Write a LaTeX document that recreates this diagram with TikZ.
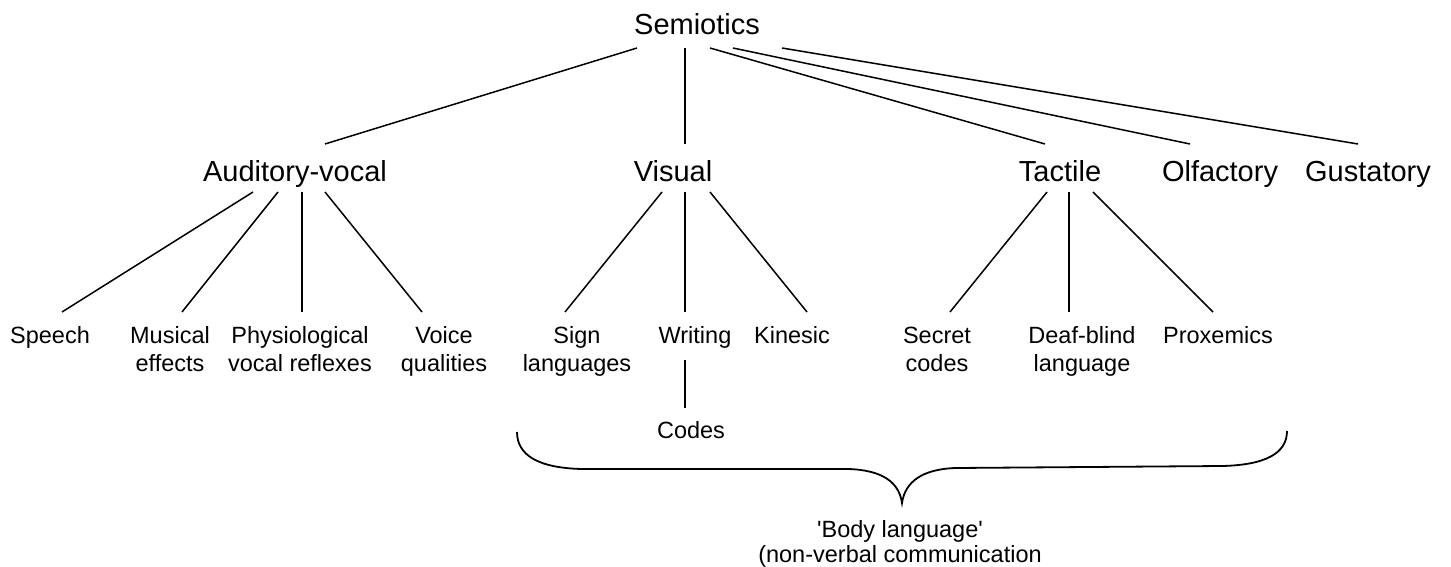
\documentclass[tikz,border=0pt]{standalone}
\usepackage{fontspec}
\setmainfont{Liberation Sans}[Ligatures=TeXOff]
\usetikzlibrary{calc}
\begin{document}
\begin{tikzpicture}[x=1pt,y=-1pt,
  big/.style={inner sep=0pt,anchor=base,font=\fontsize{29}{34}\selectfont},
  small/.style={inner sep=0pt,anchor=base,align=center,font=\fontsize{23.5}{28}\selectfont},
  link/.style={line width=1.5pt},
  bracepath/.style={line width=1.8pt}]
\useasboundingbox (0,0) rectangle (1451,567);
% level 0
\node[big] (sem) at (697,35) {Semiotics};
% level 1
\node[big] (aud) at (295,181) {Auditory-vocal};
\node[big] (vis) at (673,181) {Visual};
\node[big] (tac) at (1060,181) {Tactile};
\node[big] (olf) at (1220,181) {Olfactory};
\node[big] (gus) at (1368,181) {Gustatory};
% level 2 (two-line nodes: base = last line)
\node[small] (spe) at (50,343) {Speech};
\node[small] (mus) at (170,371) {Musical\\effects};
\node[small] (phy) at (300,371) {Physiological\\vocal reflexes};
\node[small] (voi) at (444,371) {Voice\\qualities};
\node[small] (sig) at (577,371) {Sign\\languages};
\node[small] (wri) at (695,343) {Writing};
\node[small] (kin) at (792,343) {Kinesic};
\node[small] (sec) at (937,371) {Secret\\codes};
\node[small] (dea) at (1082,371) {Deaf-blind\\language};
\node[small] (pro) at (1218,343) {Proxemics};
\node[small] (cod) at (691,438) {Codes};
\node[small,font=\fontsize{23.5}{25}\selectfont] (body) at (900,562) {'Body language'\\(non-verbal communication};
% connectors level 0 -> 1
\draw[link] ($(sem.base)+(-60,13)$) -- ($(aud.base)+(30,-37)$);
\draw[link] ($(sem.base)+(-12,13)$) -- ($(vis.base)+(12,-37)$);
\draw[link] ($(sem.base)+(13,13)$) -- ($(tac.base)+(-15,-37)$);
\draw[link] ($(sem.base)+(36,13)$) -- ($(olf.base)+(-30,-37)$);
\draw[link] ($(sem.base)+(85,13)$) -- ($(gus.base)+(-10,-37)$);
% auditory-vocal
\draw[link] ($(aud.base)+(-42,11)$) -- ($(spe.base)+(12,-31)$);
\draw[link] ($(aud.base)+(-17,11)$) -- ($(mus.base)+(12,-59)$);
\draw[link] ($(aud.base)+(7,11)$) -- ($(phy.base)+(2,-59)$);
\draw[link] ($(aud.base)+(30,11)$) -- ($(voi.base)+(-22,-59)$);
% visual
\draw[link] ($(vis.base)+(-11,11)$) -- ($(sig.base)+(-12,-59)$);
\draw[link] ($(vis.base)+(12,11)$) -- ($(wri.base)+(-10,-31)$);
\draw[link] ($(vis.base)+(37,11)$) -- ($(kin.base)+(15,-31)$);
\draw[link] ($(wri.base)+(-10,17)$) -- ($(cod.base)+(-6,-30)$);
% tactile
\draw[link] ($(tac.base)+(-13,11)$) -- ($(sec.base)+(13,-59)$);
\draw[link] ($(tac.base)+(9,11)$) -- ($(dea.base)+(-13,-59)$);
\draw[link] ($(tac.base)+(33,11)$) -- ($(pro.base)+(-5,-31)$);
% brace
\coordinate (bl) at (517,432);
\coordinate (br) at (1287,431);
\coordinate (tip) at (902,503);
\draw[bracepath] (bl) .. controls (517,455) and (538,468) .. (582,469)
  -- (848,469) .. controls (882,470) and (899,482) .. (tip)
  .. controls (905,482) and (922,469) .. (956,468)
  -- (1222,466) .. controls (1266,465) and (1287,453) .. (br);
\end{tikzpicture}
\end{document}
